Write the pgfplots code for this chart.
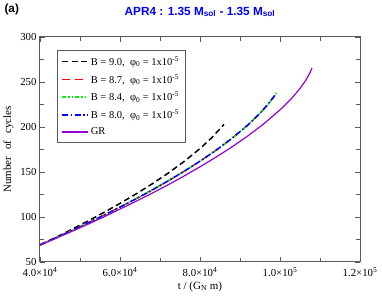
\documentclass[border=0pt]{standalone}
\usepackage{pgfplots}
\pgfplotsset{compat=1.18}
\usepackage{fontspec}
\setmainfont{Liberation Serif}
\newfontfamily\arial{Liberation Sans}
\definecolor{grred}{RGB}{255,0,0}
\definecolor{grgreen}{RGB}{0,245,0}
\definecolor{grblue}{RGB}{0,0,255}
\definecolor{grviolet}{RGB}{148,0,211}
\definecolor{axgrey}{RGB}{90,90,90}
\begin{document}
\begin{tikzpicture}
\begin{axis}[
  name=ax,
  at={(0,0)}, anchor=south west,
  scale only axis, width=320pt, height=225pt,
  xmin=40000, xmax=120000, ymin=50, ymax=300,
  xtick={40000,60000,80000,100000,120000},
  xticklabels={4.0×10\textsuperscript{4},6.0×10\textsuperscript{4},8.0×10\textsuperscript{4},1.0×10\textsuperscript{5},1.2×10\textsuperscript{5}},
  scaled x ticks=false,
  ytick={50,100,...,300},
  minor x tick num=1, minor y tick num=1,
  tick align=inside,
  major tick length=5pt, minor tick length=4pt,
  tick style={axgrey, line width=0.8pt},
  axis line style={axgrey, line width=1pt},
  every tick label/.append style={font=\fontsize{10.8}{12}\selectfont},
  xticklabel style={yshift=-2pt},
  /pgf/number format/assume math mode=true,
  xlabel={t / (G\textsubscript{N} m)},
  ylabel={Number\hspace{7pt}of\hspace{7pt}cycles},
  label style={font=\fontsize{11}{12}\selectfont},
  xlabel style={at={(0.5,0)}, anchor=north, yshift=-16pt},
  ylabel style={at={(0,0.5)}, anchor=south, yshift=23pt},
  legend style={at={(0.053,0.942)}, anchor=north west, draw=axgrey, line width=0.8pt,
    font=\fontsize{10.5}{12}\selectfont, row sep=3.5pt, inner xsep=4pt, inner ysep=4pt},
  legend cell align=left,
  legend image code/.code={\draw[mark repeat=2,mark phase=2,#1] plot coordinates {(0pt,0pt) (13pt,0pt) (26pt,0pt)};},
  legend image post style={line width=1.5pt},
]
\addplot[color=black, line width=1.5pt, dash pattern=on 6pt off 3.5pt] coordinates {
(40000,69.0) (44000,77.5) (48000,86.4) (52000,95.6) (56000,105.1) (60000,115.1)
(64000,125.6) (68000,136.7) (72000,148.6) (76000,161.6) (80000,176.0) (83000,188.3) (86000,202.9)};
\addlegendentry{B = 9.0,\ \ φ\textsubscript{0} = 1x10\textsuperscript{-5}}
\addplot[color=grred, line width=1.5pt, dash pattern=on 8pt off 5pt] coordinates {
(40000,69.0) (44000,76.9) (48000,85.0) (52000,93.4) (56000,102.0) (60000,111.0)
(64000,120.2) (68000,129.9) (72000,140.0) (76000,150.7) (80000,162.0) (84000,174.1)
(88000,187.4) (92000,202.3) (95000,215.2) (97000,225.3) (98000,231.0) (98600,234.5)};
\addlegendentry{B = 8.7,\ \ φ\textsubscript{0} = 1x10\textsuperscript{-5}}
\addplot[color=grgreen, line width=1.5pt, dash pattern=on 4pt off 2pt on 1.5pt off 2pt on 1.5pt off 2pt] coordinates {
(40000,69.0) (44000,76.9) (48000,85.0) (52000,93.4) (56000,102.0) (60000,111.0)
(64000,120.2) (68000,129.9) (72000,140.0) (76000,150.7) (80000,162.0) (84000,174.1)
(88000,187.4) (92000,202.3) (95000,215.2) (97000,225.3) (98000,231.0) (99200,238.5)};
\addlegendentry{B = 8.4,\ \ φ\textsubscript{0} = 1x10\textsuperscript{-5}}
\addplot[color=grblue, line width=1.5pt, dash pattern=on 6pt off 2.5pt on 1.5pt off 2.5pt] coordinates {
(40000,69.0) (44000,76.9) (48000,85.0) (52000,93.4) (56000,102.0) (60000,111.0)
(64000,120.2) (68000,129.9) (72000,140.0) (76000,150.7) (80000,162.0) (84000,174.1)
(88000,187.4) (92000,202.3) (95000,215.2) (97000,225.3) (98000,231.0) (98800,235.5)};
\addlegendentry{B = 8.0,\ \ φ\textsubscript{0} = 1x10\textsuperscript{-5}}
\addplot[color=grviolet, line width=1.2pt] coordinates {
(40000,68.8) (44000,76.3) (48000,84.1) (52000,92.0) (56000,100.2) (60000,108.8)
(64000,117.4) (68000,126.4) (72000,135.7) (76000,145.5) (80000,155.8) (84000,166.5)
(88000,177.9) (92000,190.2) (96000,203.7) (100000,219.0) (103000,232.3) (105000,242.8)
(106500,252.3) (107500,260.3) (108000,265.5)};
\addlegendentry{GR}
\end{axis}
\node[font=\arial\bfseries\fontsize{11.8}{12}\selectfont, text=blue] at (160pt,250pt)
  {APR4 : 1.35 M\textsubscript{sol} - 1.35 M\textsubscript{sol}};
\node[font=\arial\bfseries\fontsize{11.8}{12}\selectfont, anchor=west] at (-39pt,253pt) {(a)};
\pgfresetboundingbox
\path[use as bounding box] (-40pt,-37pt) rectangle (342pt,262pt);
\end{tikzpicture}
\end{document}
